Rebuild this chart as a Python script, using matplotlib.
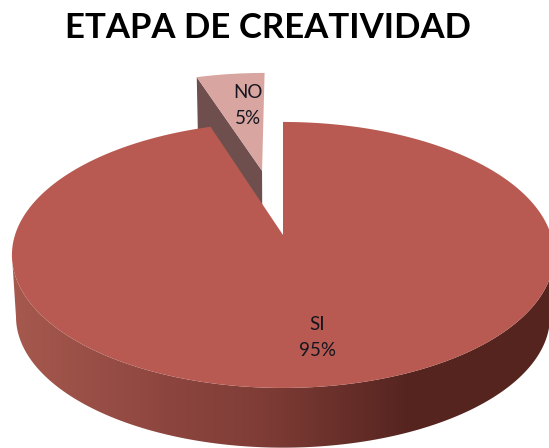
import numpy as np
import matplotlib
matplotlib.use('Agg')
import matplotlib.pyplot as plt
from matplotlib.patches import Polygon
from matplotlib.colors import LinearSegmentedColormap

labels = ['NO', 'SI']
values = [5, 95]
explode = [0.54, 0]

top_colors = ['#D8A5A0', '#B85A51']
side_no = '#6E4F4D'

# pie geometry in pixels
xc, yc = 283, 235
a, b, k = 268, 130, 0.15
depth, shrink = 62, 0.985


def project(u, v, down=False):
    # tilted disc with a little perspective, far edge is smaller
    w = 1 + k * v
    s = shrink if down else 1
    x = xc + a * u / w * s
    y = yc - b * v / w * s + (depth if down else 0)
    return x, y


def wedge(t0, t1, off, n=200):
    t = np.radians(np.linspace(t0, t1, n))
    u = np.r_[off[0], off[0] + np.cos(t)]
    v = np.r_[off[1], off[1] + np.sin(t)]
    return u, v


fig = plt.figure(figsize=(5.49, 4.48), dpi=100)
ax = fig.add_axes([0, 0, 1, 1])
ax.set_xlim(0, 549)
ax.set_ylim(448, 0)
ax.axis('off')

total = sum(values)
sweep = [360 * val / total for val in values]
no_start, no_end = 90, 90 + sweep[0]
si_start, si_end = no_end, no_end + sweep[1]

# NO slice moved out along its middle direction
mid = np.radians((no_start + no_end) / 2)
off = (explode[0] * np.cos(mid), explode[0] * np.sin(mid))

# inner face of NO, the lower part ends up behind the SI top
u, v = wedge(no_end, no_end, off, n=1)
xt, yt = project(u, v)
xb, yb = project(u, v, down=True)
ax.add_patch(Polygon(np.c_[np.r_[xt, xb[::-1]], np.r_[yt, yb[::-1]]], fc=side_no, ec='none', zorder=1))

u, v = wedge(no_start, no_end, off)
ax.add_patch(Polygon(np.c_[project(u, v)], fc=top_colors[0], ec='none', zorder=2))

# rim of SI with the left to right shading, between the two side tangents
tilt = np.degrees(np.arcsin(k))
t = np.radians(np.linspace(180 + tilt, 360 - tilt, 300))
xt, yt = project(np.cos(t), np.sin(t))
xb, yb = project(np.cos(t), np.sin(t), down=True)
rim = Polygon(np.c_[np.r_[xt, xb[::-1]], np.r_[yt, yb[::-1]]], fc='none', ec='none', transform=ax.transData)
ax.add_patch(rim)
cmap = LinearSegmentedColormap.from_list('rim', [(0, '#A85A4F'), (0.3, '#8D463F'), (0.48, '#7F3C36'), (0.75, '#55241F'), (1, '#57251F')])
grad = ax.imshow(np.linspace(0, 1, 256)[None, :], cmap=cmap, extent=(0, 549, 448, 230), aspect='auto', zorder=3)
grad.set_clip_path(rim)

u, v = wedge(si_start, si_end, (0, 0), n=400)
ax.add_patch(Polygon(np.c_[project(u, v)], fc=top_colors[1], ec='none', zorder=4))

ax.set_xlim(0, 549)
ax.set_ylim(448, 0)

txt = {'family': ['Lato', 'DejaVu Sans'], 'fontsize': 13.5, 'color': '#15151f', 'ha': 'center', 'va': 'center', 'zorder': 5}
ax.text(248, 92, labels[0], **txt)
ax.text(248, 119, f'{values[0]}%', **txt)
ax.text(317, 324, labels[1], **txt)
ax.text(317, 351, f'{values[1]}%', **txt)

ax.text(268, 28, 'ETAPA DE CREATIVIDAD', family=['Lato', 'DejaVu Sans'], fontweight='bold', fontsize=25,
        color='black', ha='center', va='center', zorder=5)

fig.savefig('out.png', dpi=100)
